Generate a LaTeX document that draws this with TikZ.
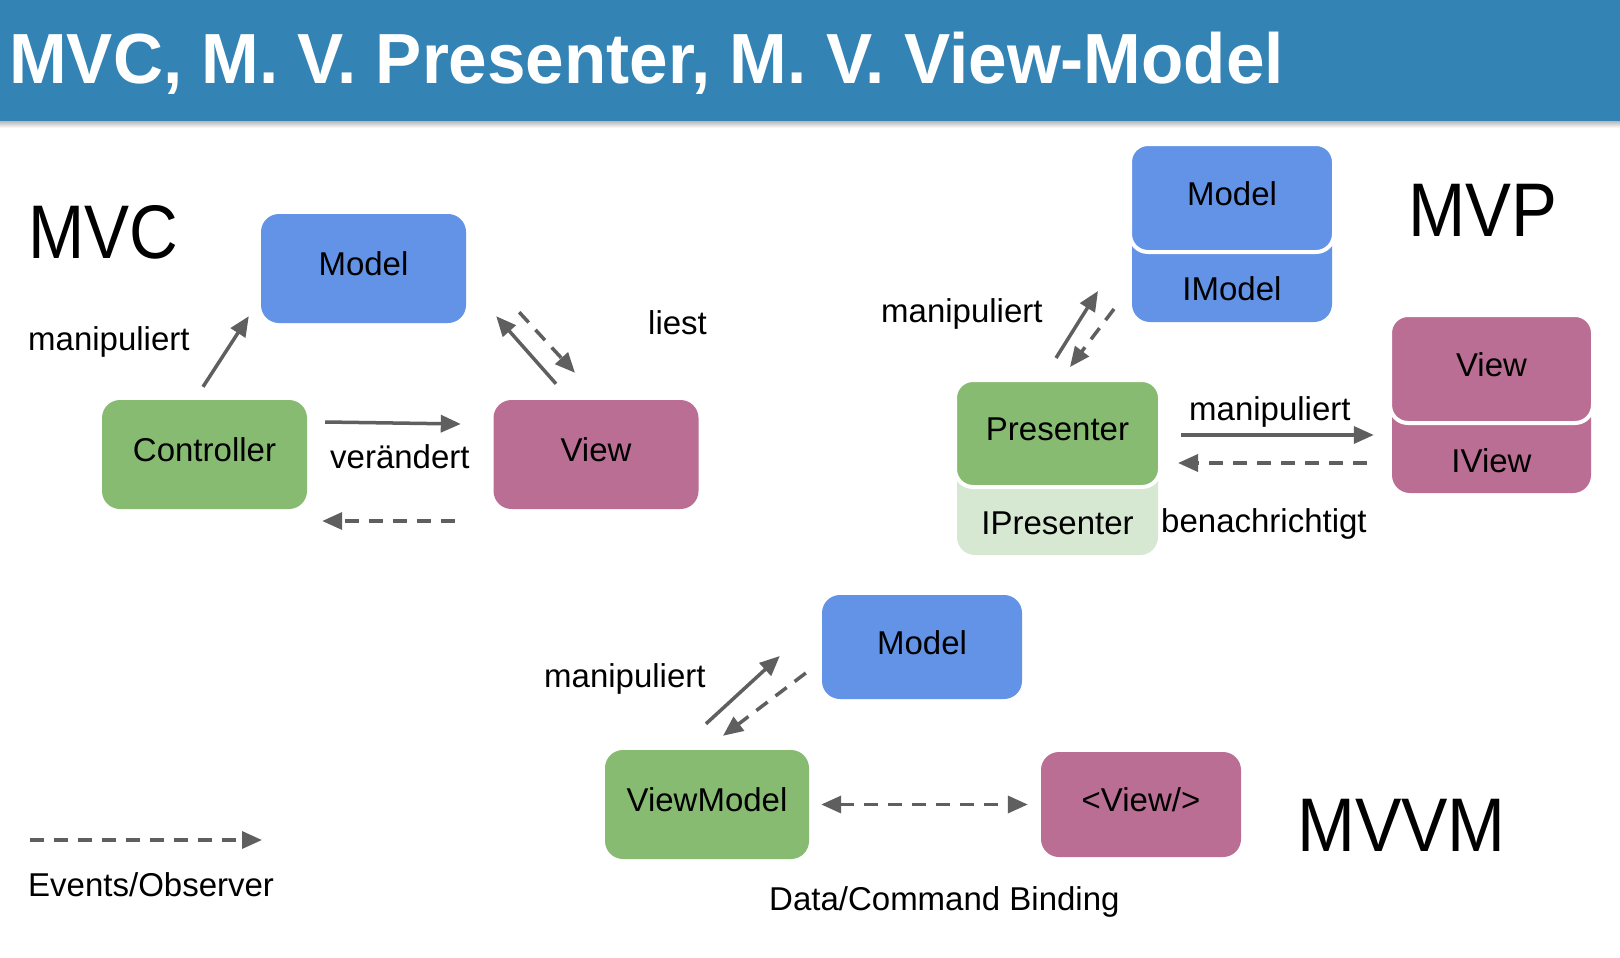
\documentclass[tikz,border=0pt]{standalone}
\usepackage{fontspec}
\setmainfont{Liberation Sans}
\usepackage{graphicx}
\usetikzlibrary{arrows.meta,calc}
\definecolor{hdr}{HTML}{3483B5}
\definecolor{mblue}{HTML}{6393E6}
\definecolor{mgreen}{HTML}{88BB72}
\definecolor{lgreen}{HTML}{D6E8D1}
\definecolor{mpink}{HTML}{BA6E94}
\definecolor{agray}{HTML}{5F5F5F}
\newcommand{\lblfont}{\fontsize{33}{40}\selectfont}
\newcommand{\bigfont}{\fontsize{76}{90}\selectfont}
\newcommand{\ttlfont}{\fontsize{71}{85}\selectfont\bfseries}
\begin{document}
\begin{tikzpicture}[x=1pt,y=-1pt,
  box/.style={rounded corners=18pt, inner sep=0pt, font=\lblfont, text=black,
     text height=23pt, text depth=9pt},
  lbl/.style={inner sep=0pt, font=\lblfont, text=black},
  txt/.style={lbl, anchor=mid west},
  big/.style={inner sep=0pt, font=\bigfont, text=black, anchor=base west},
  arr/.style={draw=agray, line width=3.5pt, -{Triangle[length=20pt,width=17pt]}},
  dsh/.style={arr, dash pattern=on 14pt off 10pt},
  dsh2/.style={draw=agray, line width=3.5pt, dash pattern=on 14pt off 10pt,
     {Triangle[length=20pt,width=17pt]}-{Triangle[length=20pt,width=17pt]}}
]
\useasboundingbox (0,0) rectangle (1620,958);
\fill[white] (0,0) rectangle (1620,958);
% header
\shade[top color=black!28, bottom color=white] (0,121) rectangle (1620,128);
\fill[hdr] (0,0) rectangle (1620,121);
\node[anchor=base west, inner sep=0pt, text=white, font=\ttlfont] (title) at (9,84)
  {\scalebox{0.975}[1]{MVC, M. V. Presenter, M. V. View-Model}};

% ===== MVC =====
\node[big] (lmvc) at (28,258) {\scalebox{0.888}[1]{MVC}};
\node[box, fill=mblue, minimum width=205pt, minimum height=109pt] (mvcModel) at (363.5,268.5) {Model};
\node[box, fill=mgreen, minimum width=205pt, minimum height=109pt] (ctrl) at (204.5,454.5) {Controller};
\node[box, fill=mpink, minimum width=205pt, minimum height=109pt] (mvcView) at (596,454.5) {View};
\node[txt] (t1) at (28,347.5) {manipuliert};
\node[txt] (t2) at (648,331.5) {liest};
\node[txt] (t3) at (330,465.5) {verändert};
\draw[arr] ($(ctrl.north)+(-1.5,-13)$) -- ($(mvcModel.south west)+(-12,-7)$);
\draw[arr] ($(mvcView.north)+(-40,-16)$) -- ($(mvcModel.south east)+(30,-7)$);
\draw[dsh] ($(mvcModel.south east)+(53,-11)$) -- ($(mvcView.north)+(-21,-27)$);
\draw[arr] ($(ctrl.east)+(18,-32.5)$) -- ($(mvcView.west)+(-32.5,-30.5)$);
\draw[dsh] ($(mvcView.west)+(-38.5,66.5)$) -- ($(ctrl.east)+(15,66.5)$);

% ===== MVP =====
\node[big] (lmvp) at (1408,236) {\scalebox{0.905}[1]{MVP}};
\node[box, fill=mblue, minimum width=200pt, minimum height=110pt,
  label={[lbl,anchor=center,yshift=33pt]south:IModel}] (mvpIModel) at (1232,267) {};
\node[box, fill=mblue, draw=white, line width=4pt, minimum width=204pt, minimum height=108pt] (mvpModel) at (1232,198) {Model};
\node[box, fill=lgreen, minimum width=201pt, minimum height=115pt,
  label={[lbl,anchor=center,yshift=32pt]south:IPresenter}] (ipres) at (1057.5,497.5) {};
\node[box, fill=mgreen, draw=white, line width=4pt, minimum width=205pt, minimum height=107pt] (pres) at (1057.5,433.5) {Presenter};
\node[box, fill=mpink, minimum width=199pt, minimum height=133pt,
  label={[lbl,anchor=center,yshift=32pt]south:IView}] (iview) at (1491.5,426.5) {};
\node[box, fill=mpink, draw=white, line width=4pt, minimum width=203pt, minimum height=108pt] (mvpView) at (1491.5,369) {View};
\node[txt] (t4) at (881,319.5) {manipuliert};
\node[txt] (t5) at (1189,417.5) {manipuliert};
\node[txt] (t6) at (1161,529.5) {benachrichtigt};
\draw[arr] ($(pres.north)+(-1.5,-20)$) -- ($(mvpModel.south west)+(-30,37)$);
\draw[dsh] ($(mvpModel.south west)+(-14,55)$) -- ($(pres.north)+(12.5,-11)$);
\draw[arr] ($(pres.east)+(19,1.5)$) -- ($(iview.west)+(-18,8.5)$);
\draw[dsh] ($(iview.west)+(-25,36.5)$) -- ($(pres.east)+(16,29.5)$);

% ===== MVVM =====
\node[big] (lmvvm) at (1297,851) {\scalebox{0.915}[1]{MVVM}};
\node[box, fill=mblue, minimum width=200pt, minimum height=104pt] (mvvmModel) at (922,647) {Model};
\node[box, fill=mgreen, minimum width=204pt, minimum height=109pt] (vm) at (707,804.5) {ViewModel};
\node[box, fill=mpink, minimum width=200pt, minimum height=105pt] (xview) at (1141,804.5) {<View/>};
\node[txt] (t7) at (544,684.5) {manipuliert};
\node[txt] (t8) at (769,908) {Data/Command Binding};
\draw[arr] ($(vm.north)+(-1,-26)$) -- ($(mvvmModel.west)+(-42,9)$);
\draw[dsh] ($(mvvmModel.west)+(-16,26)$) -- ($(vm.north)+(16,-14)$);
\draw[dsh2] ($(vm.east)+(12,0)$) -- ($(xview.west)+(-13,0)$);

% ===== legend =====
\coordinate (legA) at (30,840);
\coordinate (legB) at (262,840);
\draw[dsh] (legA) -- (legB);
\node[txt] (t9) at (28,894) {Events/Observer};
\end{tikzpicture}
\end{document}
